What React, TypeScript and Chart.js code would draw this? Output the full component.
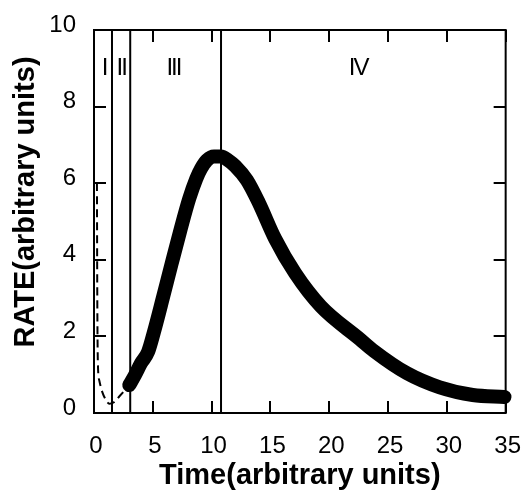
import React, { useEffect, useRef } from "react";
import { Chart, registerables } from "chart.js";

Chart.register(...registerables);

// ---- data ----
const mainTime = [3.0, 3.5, 4.0, 4.6, 5.1, 5.85, 6.6, 7.35, 8.1, 8.7, 9.1, 9.6, 10.2, 10.8, 11.4, 12.0, 13.0, 14.0, 15.4, 17.1, 19.3, 22.6, 23.8, 26.6, 29.4, 32.2, 34.9];
const mainRate = [0.73, 1.0, 1.3, 1.6, 2.12, 3.0, 3.9, 4.78, 5.6, 6.12, 6.38, 6.6, 6.7, 6.7, 6.6, 6.45, 6.08, 5.5, 4.55, 3.65, 2.78, 1.93, 1.62, 1.04, 0.67, 0.47, 0.42];

const dashTime = [0.25, 0.28, 0.33, 0.45, 0.7, 1.0, 1.3, 1.7, 2.2, 2.7];
const dashRate = [6.0, 3.0, 1.3, 0.85, 0.55, 0.35, 0.24, 0.28, 0.45, 0.62];

const boundaryTimes = [1.53, 3.08, 10.8];

const regionLabels = ["I", "II", "III", "IV"];
const regionLabelTime = [0.86, 2.31, 6.75, 22.46];
const regionLabelRate = 9.0;

const xTicks = [0, 5, 10, 15, 20, 25, 30, 35];
const yTicks = [0, 2, 4, 6, 8, 10];

const xTitle = "Time(arbitrary units)";
const yTitle = "RATE(arbitrary units)";

const FONT = "'Liberation Sans', Arial, sans-serif";

const toPoints = (xs: number[], ys: number[]) => xs.map((x, i) => ({ x, y: ys[i] }));

const framePlugin = {
  id: "frame",
  beforeDatasetsDraw(chart: any) {
    const { ctx, chartArea: a, scales } = chart;
    const xs = scales.x;
    const ys = scales.y;
    ctx.save();
    ctx.strokeStyle = "#000";
    ctx.lineWidth = 2;
    ctx.strokeRect(a.left, a.top, a.right - a.left, a.bottom - a.top);
    ctx.beginPath();
    const tl = 12;
    for (const v of xTicks) {
      const px = Math.round(xs.getPixelForValue(v));
      ctx.moveTo(px, a.bottom);
      ctx.lineTo(px, a.bottom - tl);
      ctx.moveTo(px, a.top);
      ctx.lineTo(px, a.top + tl);
    }
    for (const v of yTicks) {
      const py = Math.round(ys.getPixelForValue(v));
      ctx.moveTo(a.left, py);
      ctx.lineTo(a.left + tl, py);
      ctx.moveTo(a.right, py);
      ctx.lineTo(a.right - tl, py);
    }
    ctx.stroke();

    // region labels
    ctx.fillStyle = "#000";
    ctx.font = `24px ${FONT}`;
    ctx.textAlign = "center";
    ctx.textBaseline = "middle";
    try {
      (ctx as any).letterSpacing = "-2px";
    } catch (e) {}
    regionLabels.forEach((t, i) => {
      ctx.fillText(t, xs.getPixelForValue(regionLabelTime[i]), ys.getPixelForValue(regionLabelRate));
    });
    try {
      (ctx as any).letterSpacing = "0px";
    } catch (e) {}

    // y axis title
    ctx.font = `bold 29px ${FONT}`;
    ctx.translate(26, 202);
    ctx.rotate(-Math.PI / 2);
    ctx.fillText(yTitle, 0, 0);
    ctx.restore();
  },
};

export default function App() {
  const ref = useRef<HTMLCanvasElement | null>(null);

  useEffect(() => {
    if (!ref.current) return;
    const chart = new Chart(ref.current, {
      type: "line",
      data: {
        datasets: [
          ...boundaryTimes.map((t) => ({
            data: [
              { x: t, y: 0 },
              { x: t, y: 10 },
            ],
            borderColor: "#000",
            borderWidth: 2,
            pointRadius: 0,
            fill: false,
          })),
          {
            data: toPoints(dashTime, dashRate),
            borderColor: "#000",
            borderWidth: 2,
            borderDash: [8, 5],
            pointRadius: 0,
            cubicInterpolationMode: "monotone",
            fill: false,
          },
          {
            data: toPoints(mainTime, mainRate),
            borderColor: "#000",
            borderWidth: 14,
            borderCapStyle: "round",
            borderJoinStyle: "round",
            pointRadius: 0,
            cubicInterpolationMode: "monotone",
            fill: false,
            clip: false,
          } as any,
        ],
      },
      options: {
        animation: false,
        responsive: false,
        maintainAspectRatio: false,
        devicePixelRatio: 1,
        layout: { padding: { left: 0, top: 30, right: 17, bottom: 0 } },
        plugins: {
          legend: { display: false },
          tooltip: { enabled: false },
        },
        scales: {
          x: {
            type: "linear",
            min: 0,
            max: 35,
            grid: { display: false },
            border: { display: false },
            afterFit: (s: any) => {
              s.height = 79;
            },
            ticks: {
              stepSize: 5,
              padding: 11,
              labelOffset: 2,
              color: "#000",
              font: { family: FONT, size: 24 },
              maxRotation: 0,
              autoSkip: false,
            },
            title: {
              display: true,
              text: xTitle,
              color: "#000",
              font: { family: FONT, size: 29, weight: "bold", lineHeight: 1 },
              padding: { top: 0, bottom: 2 },
            },
          },
          y: {
            type: "linear",
            min: 0,
            max: 10,
            grid: { display: false },
            border: { display: false },
            afterFit: (s: any) => {
              s.width = 94;
            },
            ticks: {
              stepSize: 2,
              padding: 10,
              labelOffset: -5,
              color: "#000",
              font: { family: FONT, size: 24 },
            },
          },
        },
      },
      plugins: [framePlugin],
    } as any);
    return () => chart.destroy();
  }, []);

  return (
    <div style={{ position: "absolute", left: 0, top: 0, width: 530, height: 492, background: "#fff" }}>
      <canvas ref={ref} width={530} height={492} style={{ display: "block" }} />
    </div>
  );
}
